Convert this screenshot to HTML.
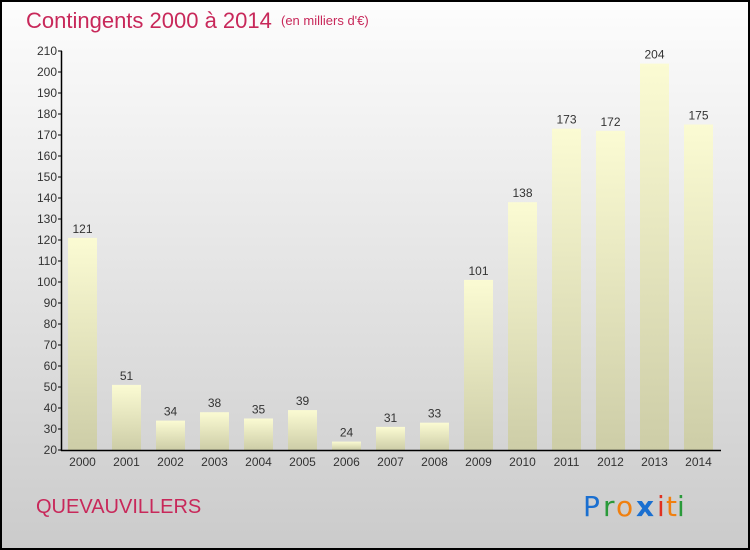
<!DOCTYPE html>
<html><head><meta charset="utf-8"><style>
body{margin:0;width:750px;height:550px;overflow:hidden;font-family:"Liberation Sans",sans-serif}
svg{display:block}
</style></head><body>
<svg width="750" height="550">
<defs>
<linearGradient id="bg" x1="0" y1="0" x2="0" y2="1"><stop offset="0" stop-color="#fdfdfd"/><stop offset="1" stop-color="#cbcbcb"/></linearGradient>
<linearGradient id="bar" x1="0" y1="0" x2="0" y2="1"><stop offset="0" stop-color="#fbfbd3"/><stop offset="1" stop-color="#cdcda7"/></linearGradient>
</defs>
<rect x="1" y="1" width="748" height="548" fill="url(#bg)" stroke="#000" stroke-width="2"/>
<text x="26" y="28" font-size="22" fill="#c8285a">Contingents 2000 à 2014</text>
<text x="281" y="25" font-size="13" fill="#c8285a">(en milliers d'€)</text>
<text x="36" y="513" font-size="20" fill="#c8285a">QUEVAUVILLERS</text>
<g font-size="28" font-family="'DejaVu Sans',sans-serif">
<text x="583" y="516" fill="#1a6fd0">P</text><text x="603" y="516" fill="#2a9a3a">r</text><text x="616" y="516" fill="#f08010">o</text><text x="636" y="516" fill="#1a6fd0" font-weight="bold">x</text><text x="657" y="516" fill="#e03020">i</text><text x="666" y="516" fill="#f08010">t</text><text x="677" y="516" fill="#2a9a3a">i</text>
</g>
<g id="plot"></g>
</svg>
<script>
const years=["2000","2001","2002","2003","2004","2005","2006","2007","2008","2009","2010","2011","2012","2013","2014"];
const values=[121,51,34,38,35,39,24,31,33,101,138,173,172,204,175];
const ticks=[20,30,40,50,60,70,80,90,100,110,120,130,140,150,160,170,180,190,200,210];
const NS="http://www.w3.org/2000/svg";
const g=document.getElementById('plot');
const y=v=>450-(v-20)*2.1;
const x=i=>82.5+44*i;
function mk(t,a){const e=document.createElementNS(NS,t);for(const k in a)e.setAttribute(k,a[k]);g.appendChild(e);return e;}
values.forEach((v,i)=>{
 const r=mk('rect',{x:x(i)-14.5,y:y(v),width:29,height:450-y(v),fill:'url(#bar)'});
 
 
 const t=mk('text',{x:x(i),y:y(v)-5,'font-size':12,fill:'#333','text-anchor':'middle'});t.textContent=v;
 
 
 const l=mk('text',{x:x(i),y:466,'font-size':12,fill:'#333','text-anchor':'middle'});l.textContent=years[i];
 
 
});
ticks.forEach(v=>{
 const tk=mk('line',{x1:58,x2:62,y1:y(v),y2:y(v),stroke:'#000'});
 
 
 const t=mk('text',{x:57,y:y(v)+4,'font-size':12,fill:'#333','text-anchor':'end'});t.textContent=v;
 
 
});
const ya=mk('line',{x1:61.5,x2:61.5,y1:y(210),y2:451,stroke:'#000','stroke-width':1.5});


const xa=mk('line',{x1:61,x2:721,y1:450.5,y2:450.5,stroke:'#000','stroke-width':1.5});


</script>
</body></html>
